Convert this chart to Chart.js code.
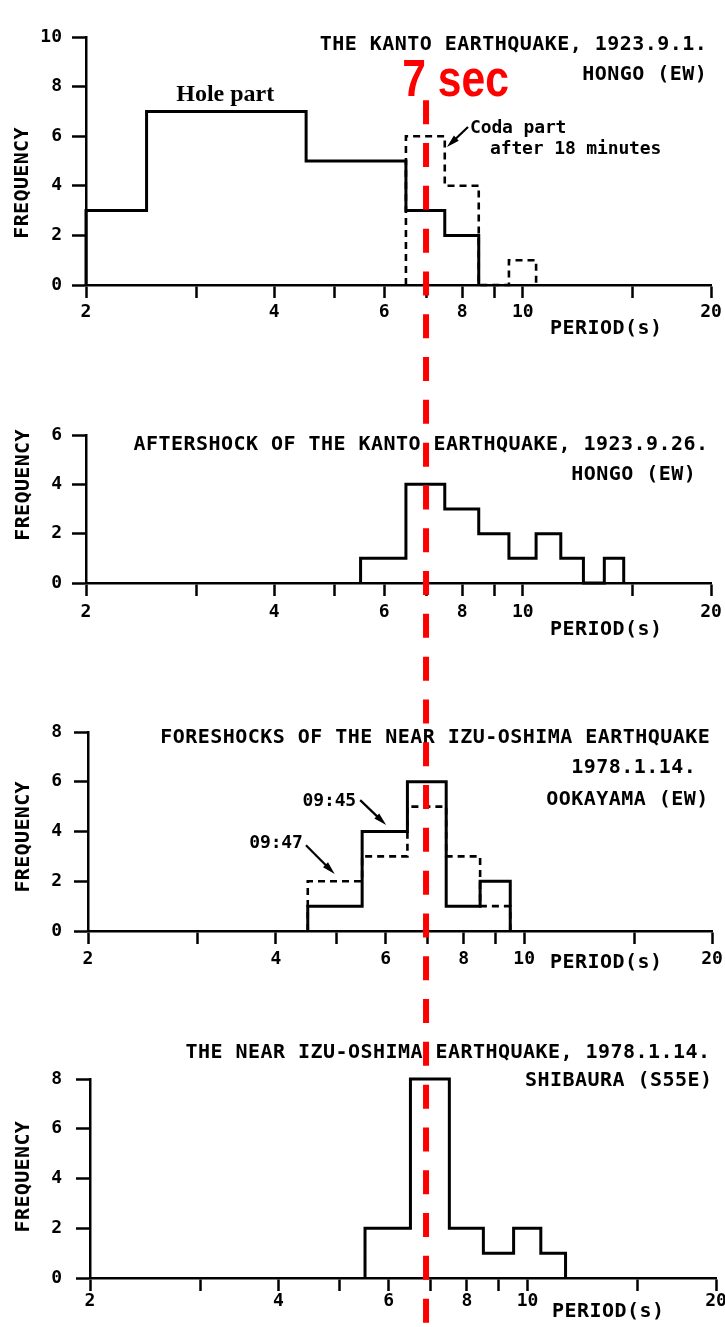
<!DOCTYPE html>
<html>
<head>
<meta charset="utf-8">
<script src="https://cdn.jsdelivr.net/npm/chart.js@4.4.1/dist/chart.umd.min.js"></script>
<style>
  body { margin: 0; background: #fff; width: 725px; height: 1327px; position: relative; overflow: hidden; }
  canvas { position: absolute; left: 0; }
</style>
</head>
<body>
<canvas id="kanto" width="725" height="360" style="top:0"></canvas>
<canvas id="aftershock" width="725" height="300" style="top:360px"></canvas>
<canvas id="foreshock" width="725" height="350" style="top:660px"></canvas>
<canvas id="mainshock" width="725" height="317" style="top:1010px"></canvas>
<canvas id="overlay" width="725" height="1327" style="top:0;pointer-events:none"></canvas>
<script>
// period bins are 1 s wide, centred on whole seconds
const kantoPeriods = [2, 3, 4, 5, 6, 7, 8, 9, 10];
const kantoHole = [3, 7, 7, 5, 5, 3, 2, 0, 0];
const kantoCoda = [0, 0, 0, 0, 0, 6, 4, 0, 1];

const aftershockPeriods = [6, 7, 8, 9, 10, 11, 12, 13, 14];
const aftershockCounts = [1, 4, 3, 2, 1, 2, 1, 0, 1];

const foreshockPeriods = [5, 6, 7, 8, 9];
const foreshock0945 = [1, 4, 6, 1, 2];
const foreshock0947 = [2, 3, 5, 3, 1];

const mainshockPeriods = [6, 7, 8, 9, 10, 11];
const mainshockCounts = [2, 8, 2, 1, 2, 1];

const periodTicks = [2, 3, 4, 5, 6, 7, 8, 9, 10, 15, 20];
const periodLabels = [2, 4, 6, 8, 10, 20];
const markPeriod = 7;

const MONO = 'bold 20px "DejaVu Sans Mono"';
const SMALL = 'bold 18px "DejaVu Sans Mono"';
const INK = '#000';

// histogram outline -> step points (leading/trailing zero bins dropped)
function steps(periods, counts) {
    let a = counts.findIndex(v => v > 0);
    let b = counts.length - 1;
    while (counts[b] === 0) b--;
    const edge = p => Math.min(20, Math.max(2, p));
    const pts = [{x: edge(periods[a] - 0.5), y: 0}];
    for (let i = a; i <= b; i++) pts.push({x: edge(periods[i] - 0.5), y: counts[i]});
    pts.push({x: edge(periods[b] + 0.5), y: 0});
    return pts;
}

function spaced(ctx, text, x, y, pitch, align) {
    const adv = ctx.measureText('M').width;
    const total = (text.length - 1) * pitch + adv;
    const x0 = align === 'right' ? x - total : align === 'center' ? x - total / 2 : x;
    for (let i = 0; i < text.length; i++) ctx.fillText(text[i], x0 + i * pitch, y);
}

const paperText = {
    id: 'paperText',
    afterDraw(chart, args, opts) {
        const {ctx} = chart;
        const sx = chart.scales.x, sy = chart.scales.y;
        ctx.save();
        ctx.fillStyle = INK;
        ctx.strokeStyle = INK;
        ctx.textAlign = 'left';
        ctx.textBaseline = 'alphabetic';

        (opts.arrows || []).forEach(a => {
            const x1 = sx.getPixelForValue(a.from[0]), y1 = sy.getPixelForValue(a.from[1]);
            const x2 = sx.getPixelForValue(a.to[0]), y2 = sy.getPixelForValue(a.to[1]);
            const ang = Math.atan2(y2 - y1, x2 - x1);
            const L = 13, W = 3.5;
            ctx.lineWidth = 2.2;
            ctx.beginPath();
            ctx.moveTo(x1, y1);
            ctx.lineTo(x2 - Math.cos(ang) * L * 0.6, y2 - Math.sin(ang) * L * 0.6);
            ctx.stroke();
            ctx.beginPath();
            ctx.moveTo(x2, y2);
            ctx.lineTo(x2 - L * Math.cos(ang) - W * Math.sin(ang), y2 - L * Math.sin(ang) + W * Math.cos(ang));
            ctx.lineTo(x2 - L * Math.cos(ang) + W * Math.sin(ang), y2 - L * Math.sin(ang) - W * Math.cos(ang));
            ctx.closePath();
            ctx.fill();
        });

        (opts.notes || []).forEach(n => {
            const px = sx.getPixelForValue(n.x), py = sy.getPixelForValue(n.y);
            if (n.style === 'serif') {
                ctx.font = 'bold 24px "Liberation Serif"';
                ctx.textAlign = 'center';
                ctx.fillText(n.text, px, py);
                ctx.textAlign = 'left';
            } else if (n.style === 'red') {
                ctx.save();
                ctx.fillStyle = '#ff0000';
                ctx.font = 'bold 52px "Liberation Sans"';
                ctx.translate(px, py);
                ctx.scale(0.82, 1);
                ctx.fillText(n.text, 0, 0);
                ctx.restore();
            } else if (n.style === 'small') {
                ctx.font = SMALL;
                spaced(ctx, n.text, px, py, 10.7, n.align);
            } else {
                ctx.font = MONO;
                spaced(ctx, n.text, px, py, 12.5, n.align);
            }
        });

        if (opts.yTitle) {
            ctx.save();
            ctx.translate(opts.yTitle.px, sy.getPixelForValue(opts.yTitle.y));
            ctx.rotate(-Math.PI / 2);
            ctx.font = MONO;
            ctx.textBaseline = 'middle';
            spaced(ctx, 'FREQUENCY', 0, 0, 12.4, 'center');
            ctx.restore();
        }
        ctx.restore();
    }
};

function histLine(points, dashed) {
    return {
        data: points,
        borderColor: INK,
        borderWidth: dashed ? 2.6 : 3,
        borderDash: dashed ? [7, 5] : [],
        stepped: 'before',
        pointRadius: 0,
        fill: false,
        clip: false
    };
}

const tickFont = {family: '"DejaVu Sans Mono"', size: 18, weight: 'bold'};

function panel(id, yMax, box, datasets, text) {
    return new Chart(document.getElementById(id), {
        type: 'line',
        data: {datasets},
        plugins: [paperText],
        options: {
            responsive: false,
            animation: false,
            events: [],
            layout: {padding: {top: box.top, right: box.right, bottom: 0, left: 0}},
            plugins: {legend: {display: false}, tooltip: {enabled: false}, paperText: text},
            scales: {
                x: {
                    type: 'logarithmic',
                    min: 2,
                    max: 20,
                    afterBuildTicks: s => { s.ticks = periodTicks.map(v => ({value: v})); },
                    afterFit: s => { s.height = box.xHeight; s.paddingLeft = 0; s.paddingRight = 0; },
                    ticks: {
                        autoSkip: false, maxRotation: 0, padding: box.xPad, color: INK, font: tickFont,
                        callback: v => periodLabels.includes(v) ? String(v) : ''
                    },
                    grid: {drawOnChartArea: false, tickLength: 13, tickWidth: 2.5, tickColor: INK},
                    border: {color: INK, width: 2.5}
                },
                y: {
                    min: 0,
                    max: yMax,
                    afterFit: s => { s.width = box.left; s.paddingTop = 0; s.paddingBottom = 0; },
                    ticks: {stepSize: 2, padding: box.yPad, color: INK, font: tickFont},
                    grid: {drawOnChartArea: false, tickLength: 14, tickWidth: 2.5, tickColor: INK},
                    border: {color: INK, width: 2.5}
                }
            }
        }
    });
}

const kanto = panel('kanto', 10,
    {top: 37, right: 14, left: 86, xHeight: 75, xPad: 4, yPad: 10},
    [histLine(steps(kantoPeriods, kantoHole), false), histLine(steps(kantoPeriods, kantoCoda), true)],
    {
        yTitle: {px: 23, y: 4.11},
        arrows: [{from: [8.17, 6.37], to: [7.56, 5.56]}],
        notes: [
            {text: 'THE KANTO EARTHQUAKE, 1923.9.1.', x: 19.7, y: 9.48, align: 'right'},
            {text: 'HONGO (EW)', x: 19.7, y: 8.27, align: 'right'},
            {text: 'Hole part', x: 3.34, y: 7.42, style: 'serif'},
            {text: 'Coda part', x: 8.23, y: 6.13, align: 'left', style: 'small'},
            {text: 'after 18 minutes', x: 8.86, y: 5.28, align: 'left', style: 'small'},
            {text: 'PERIOD(s)', x: 11.05, y: -1.98, align: 'left'},
            {text: '7 sec', x: 6.41, y: 7.62, style: 'red'}
        ]
    });

panel('aftershock', 6,
    {top: 75, right: 14, left: 86, xHeight: 77, xPad: 6, yPad: 10},
    [histLine(steps(aftershockPeriods, aftershockCounts), false)],
    {
        yTitle: {px: 24, y: 3.97},
        notes: [
            {text: 'AFTERSHOCK OF THE KANTO EARTHQUAKE, 1923.9.26.', x: 19.78, y: 5.38, align: 'right'},
            {text: 'HONGO (EW)', x: 18.91, y: 4.17, align: 'right'},
            {text: 'PERIOD(s)', x: 11.05, y: -2.1, align: 'left'}
        ]
    });

panel('foreshock', 8,
    {top: 72, right: 13, left: 88, xHeight: 79, xPad: 5, yPad: 12},
    [histLine(steps(foreshockPeriods, foreshock0945), false), histLine(steps(foreshockPeriods, foreshock0947), true)],
    {
        yTitle: {px: 24, y: 3.78},
        arrows: [{from: [5.46, 5.26], to: [6.01, 4.26]}, {from: [4.47, 3.45], to: [4.97, 2.29]}],
        notes: [
            {text: 'FORESHOCKS OF THE NEAR IZU-OSHIMA EARTHQUAKE', x: 19.83, y: 7.55, align: 'right'},
            {text: '1978.1.14.', x: 18.84, y: 6.34, align: 'right'},
            {text: 'OOKAYAMA (EW)', x: 19.73, y: 5.07, align: 'right'},
            {text: '09:45', x: 5.38, y: 5.03, align: 'right', style: 'small'},
            {text: '09:47', x: 4.42, y: 3.34, align: 'right', style: 'small'},
            {text: 'PERIOD(s)', x: 11.0, y: -1.49, align: 'left'}
        ]
    });

panel('mainshock', 8,
    {top: 69, right: 9, left: 90, xHeight: 49, xPad: 0, yPad: 14},
    [histLine(steps(mainshockPeriods, mainshockCounts), false)],
    {
        yTitle: {px: 24, y: 4.07},
        notes: [
            {text: 'THE NEAR IZU-OSHIMA EARTHQUAKE, 1978.1.14.', x: 19.56, y: 8.85, align: 'right'},
            {text: 'SHIBAURA (S55E)', x: 19.71, y: 7.70, align: 'right'},
            {text: 'PERIOD(s)', x: 10.94, y: -1.58, align: 'left'}
        ]
    });

// red 7 s marker running through all four panels
const over = document.getElementById('overlay').getContext('2d');
const rx = kanto.scales.x.getPixelForValue(markPeriod);
over.strokeStyle = '#ff0000';
over.lineWidth = 6;
over.setLineDash([24, 18.8]);
over.beginPath();
over.moveTo(rx, kanto.scales.y.getPixelForValue(7.45));
over.lineTo(rx, 1327);
over.stroke();
</script>
</body>
</html>
